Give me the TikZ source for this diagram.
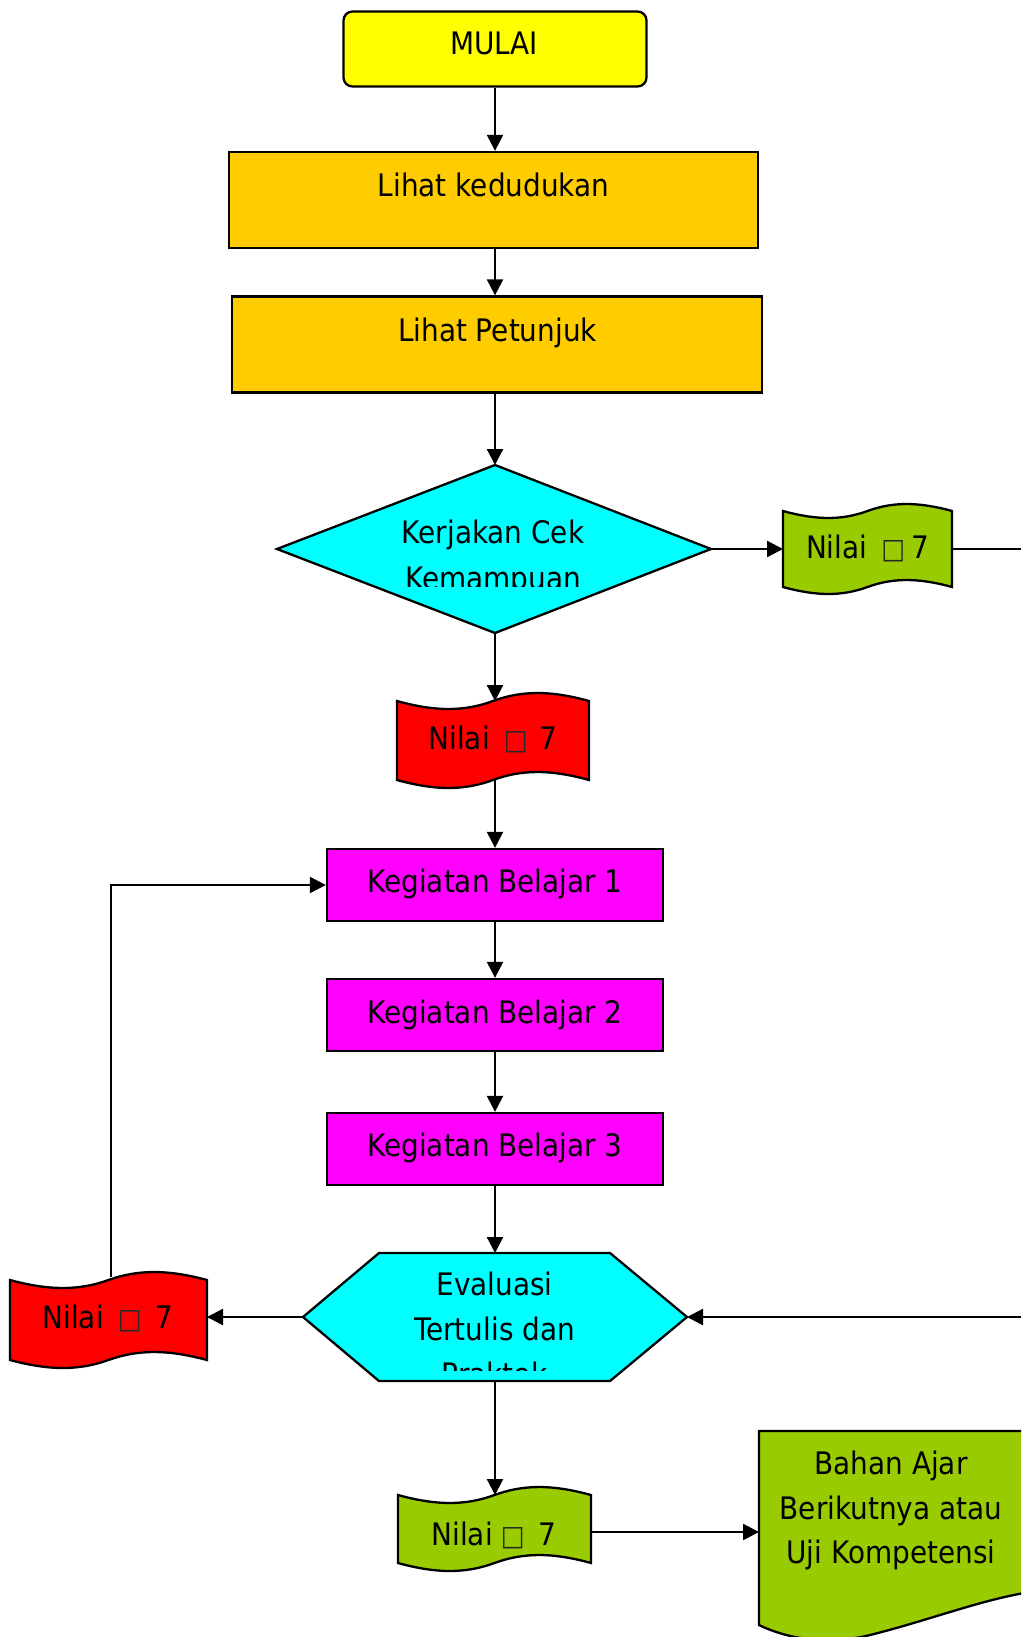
\documentclass[tikz,border=0pt]{standalone}
\usepackage{fontspec}
\setmainfont{DejaVu Sans}[FakeStretch=0.9]
\usetikzlibrary{arrows.meta}
\definecolor{cYellow}{RGB}{255,255,0}
\definecolor{cOrange}{RGB}{255,204,0}
\definecolor{cCyan}{RGB}{0,255,255}
\definecolor{cMag}{RGB}{255,0,255}
\definecolor{cRed}{RGB}{255,0,0}
\definecolor{cGreen}{RGB}{153,204,0}
\newcommand\tofu{{\fontsize{28pt}{28pt}\selectfont\color[RGB]{40,40,40}□}}
\newcommand\tapeshape[6]{%
\draw[shp, fill=#1] (#2,#3)
 .. controls ({#2+0.2*(#4-#2)},{#3+1.33*#6}) and ({#2+0.35*(#4-#2)},{#3+1.33*#6}) .. ({(#2+#4)/2},#3)
 .. controls ({#2+0.65*(#4-#2)},{#3-1.33*#6}) and ({#2+0.8*(#4-#2)},{#3-1.33*#6}) .. (#4,#3)
 -- (#4,#5)
 .. controls ({#2+0.8*(#4-#2)},{#5-1.33*#6}) and ({#2+0.65*(#4-#2)},{#5-1.33*#6}) .. ({(#2+#4)/2},#5)
 .. controls ({#2+0.35*(#4-#2)},{#5+1.33*#6}) and ({#2+0.2*(#4-#2)},{#5+1.33*#6}) .. (#2,#5)
 -- cycle;}
\tikzset{
 shp/.style={draw=black, line width=2.3pt, line join=miter},
 ln/.style={draw=black, line width=2.3pt},
 arr/.style={ln, -{Triangle[length=16pt,width=16pt]}},
 box/.style={shp, rectangle, inner sep=0pt},
 txt/.style={font=\fontsize{31pt}{44pt}\selectfont, inner sep=0pt, anchor=base},
}
\begin{document}
\begin{tikzpicture}[x=1pt,y=-1pt]
\useasboundingbox (0,0) rectangle (1021,1637);
\fill[white] (0,0) rectangle (1021,1637);
\clip (0,0) rectangle (1021,1637);

% MULAI
\node[box, fill=cYellow, rounded corners=9pt, minimum width=303pt, minimum height=75pt] (mulai) at (495,49) {};
\node[txt] (tmulai) at (494,55) {MULAI};

% Lihat kedudukan / petunjuk
\node[box, fill=cOrange, minimum width=529pt, minimum height=96pt] (lk) at (493.5,200) {};
\node[txt] (tlk) at (493.5,197) {Lihat kedudukan};
\node[box, fill=cOrange, minimum width=530pt, minimum height=96pt] (lp) at (497,344.5) {};
\node[txt] (tlp) at (497.5,341) {Lihat Petunjuk};

% Diamond
\coordinate (dT) at (495,465);
\coordinate (dR) at (711,549);
\coordinate (dB) at (495,633);
\coordinate (dL) at (277,549);
\draw[shp, fill=cCyan] (dT) -- (dR) -- (dB) -- (dL) -- cycle;
\begin{scope}
\clip (250,450) rectangle (740,586);
\node[txt] (k1) at (493,543) {Kerjakan Cek};
\node[txt] (k2) at (493,589) {Kemampuan};
\end{scope}

\draw[arr] (mulai.south) -- (mulai.south |- lk.north);
\draw[arr] (mulai.south |- lk.south) -- (mulai.south |- lp.north);
\draw[arr] (mulai.south |- lp.south) -- (dT);

% Green tape top right
\tapeshape{cGreen}{783}{511}{952}{587}{7}
\node[txt] (g1) at (867.5,558) {Nilai\hspace{14pt}\tofu\hspace{6pt}7};
\coordinate (g1W) at (783,549);
\coordinate (g1E) at (952,549);
\coordinate (edgeA) at (1021,549);
\draw[arr] (dR) -- (g1W);
\draw[ln] (g1E) -- (edgeA);

% Red tape middle
\tapeshape{cRed}{397}{701}{589}{780}{8}
\node[txt] (r1) at (493,749) {Nilai\hspace{14pt}\tofu\hspace{12pt}7};
\coordinate (r1N) at (495,701);
\coordinate (r1S) at (495,779);
\draw[arr] (dB) -- (r1N);

% Kegiatan Belajar
\node[box, fill=cMag, minimum width=336pt, minimum height=72pt] (kb1) at (495,885) {};
\node[txt] (tkb1) at (495,892) {Kegiatan Belajar 1};
\node[box, fill=cMag, minimum width=336pt, minimum height=72pt] (kb2) at (495,1015) {};
\node[txt] (tkb2) at (495,1023) {Kegiatan Belajar 2};
\node[box, fill=cMag, minimum width=336pt, minimum height=72pt] (kb3) at (495,1149) {};
\node[txt] (tkb3) at (495,1156) {Kegiatan Belajar 3};
\draw[arr] (r1S) -- (kb1.north);
\draw[arr] (kb1.south) -- (kb2.north);
\draw[arr] (kb2.south) -- (kb3.north);

% Hexagon
\coordinate (hL) at (303,1317);
\coordinate (hTL) at (379,1253);
\coordinate (hTR) at (610,1253);
\coordinate (hR) at (687,1317);
\coordinate (hBR) at (610,1381);
\coordinate (hBL) at (379,1381);
\coordinate (hT) at (495,1253);
\coordinate (hB) at (495,1381);
\draw[shp, fill=cCyan] (hL) -- (hTL) -- (hTR) -- (hR) -- (hBR) -- (hBL) -- cycle;
\begin{scope}
\clip (300,1240) rectangle (700,1370);
\node[txt] (e1) at (494.5,1295) {Evaluasi};
\node[txt] (e2) at (494.5,1340) {Tertulis dan};
\node[txt] (e3) at (494.5,1385) {Praktek};
\end{scope}
\draw[arr] (kb3.south) -- (hT);

% Left red tape
\tapeshape{cRed}{10}{1280}{207}{1360}{8}
\node[txt] (r2) at (108,1328) {Nilai\hspace{14pt}\tofu\hspace{14pt}7};
\coordinate (r2E) at (207,1317);
\coordinate (r2N) at (111,1277);
\coordinate (kink) at (111,885);
\draw[arr] (hL) -- (r2E);
\draw[arr] (r2N) -- (kink) -- (kb1.west);

% right incoming
\coordinate (edgeB) at (1021,1317);
\draw[arr] (edgeB) -- (hR);

% Bottom green tape
\tapeshape{cGreen}{398}{1495}{591}{1563}{8}
\node[txt] (g2) at (494,1545) {Nilai\hspace{8pt}\tofu\hspace{14pt}7};
\coordinate (g2N) at (495,1495);
\coordinate (g2E) at (591,1532);
\draw[arr] (hB) -- (g2N);

% Bahan Ajar document
\coordinate (bW) at (759,1532);
\draw[shp, fill=cGreen] (759,1431) -- (1030,1431) -- (1030,1592)
  .. controls (980,1600) and (930,1620) .. (870,1635)
  .. controls (830,1645) and (790,1640) .. (759,1625) -- cycle;
\node[txt] (b1) at (891,1474) {Bahan Ajar};
\node[txt] (b2) at (891,1519) {Berikutnya atau};
\node[txt] (b3) at (891,1563) {Uji Kompetensi};
\draw[arr] (g2E) -- (bW);
\end{tikzpicture}
\end{document}
